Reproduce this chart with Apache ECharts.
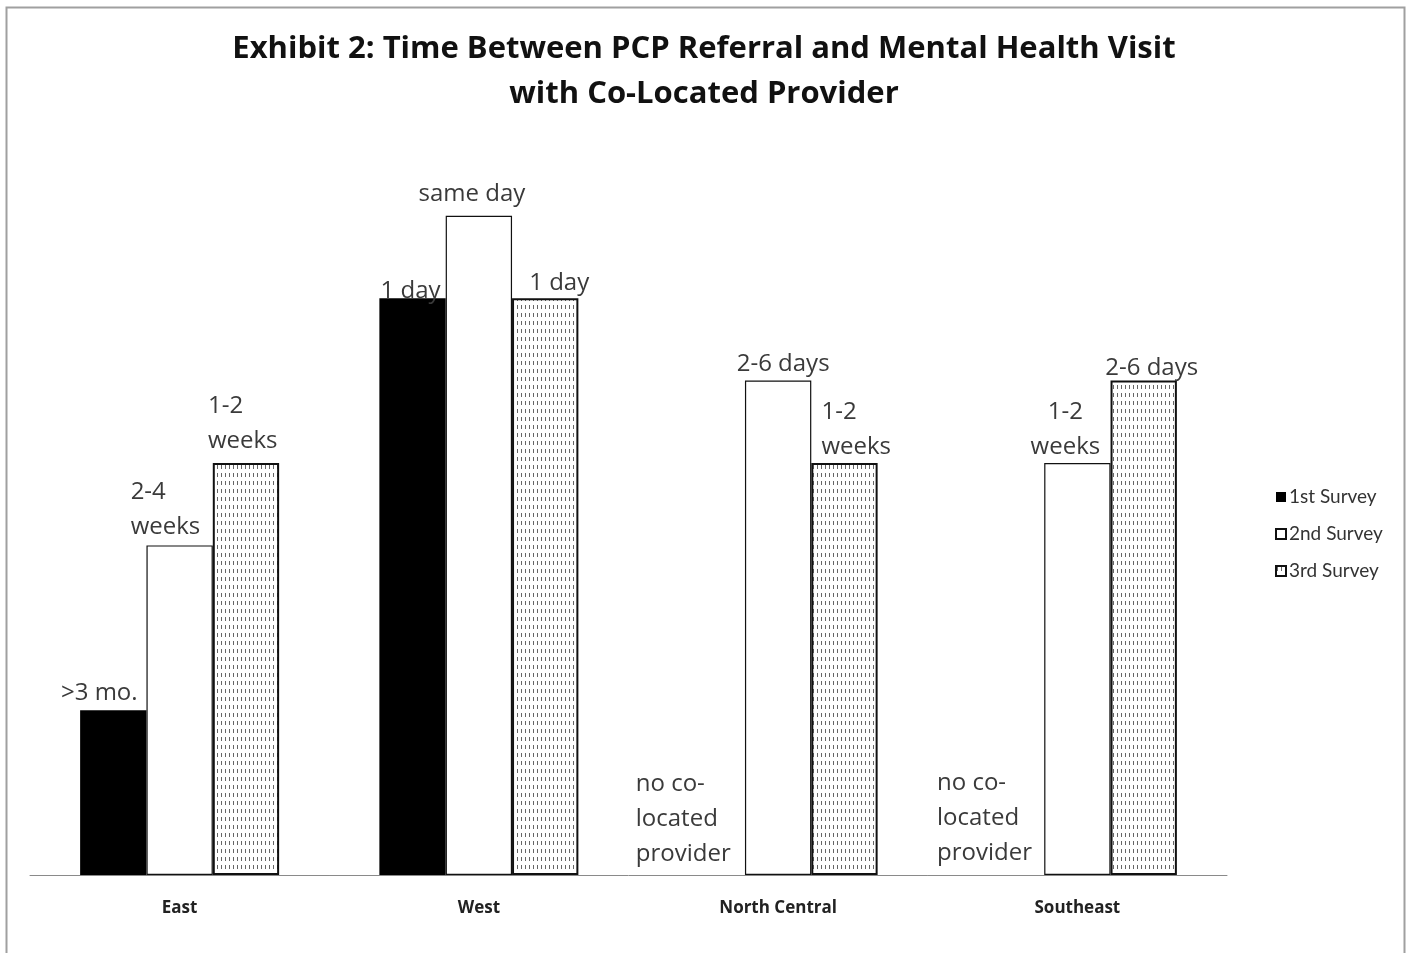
<!DOCTYPE html>
<html>
<head>
<meta charset="utf-8">
<script src="https://cdn.jsdelivr.net/npm/echarts@6/dist/echarts.min.js"></script>
<style>
html,body{margin:0;padding:0;background:#fff;}
#chart{width:1408px;height:953px;}
</style>
</head>
<body>
<div id="chart"></div>
<script>
// ---- data ----
const categories = ['East', 'West', 'North Central', 'Southeast'];
const seriesNames = ['1st Survey', '2nd Survey', '3rd Survey'];
// ordinal wait-time rank (higher = shorter wait)
const survey1 = [2, 7, 0, 0];
const survey2 = [4, 8, 6, 5];
const survey3 = [5, 7, 5, 6];
const labels1 = ['>3 mo.', '1 day', 'no co-\nlocated\nprovider', 'no co-\nlocated\nprovider'];
const labels2 = ['2-4\nweeks', 'same day', '2-6 days', '1-2\nweeks'];
const labels3 = ['1-2\nweeks', '1 day', '1-2\nweeks', '2-6 days'];
const titleText = 'Exhibit 2: Time Between PCP Referral and Mental Health Visit\nwith Co-Located Provider';

// ---- label placement styles ----
const labelStyle1 = [
  {align: 'center', offset: [-14, 3]},
  {align: 'center', offset: [-2, 13]},
  {align: 'left', offset: [-76, 0]},
  {align: 'left', offset: [-74, -1]}
];
const labelStyle2 = [
  {align: 'left', offset: [-49, 2]},
  {align: 'center', offset: [-7, -1]},
  {align: 'center', offset: [5, 4]},
  {align: 'center', offset: [-12, 5]}
];
const labelStyle3 = [
  {align: 'left', offset: [-38, -1]},
  {align: 'center', offset: [14, 5]},
  {align: 'left', offset: [-23, 5]},
  {align: 'center', offset: [8, 8]}
];

// dotted pattern for 3rd survey
function makePattern() {
  const c = document.createElement('canvas');
  c.width = 4; c.height = 8;
  const ctx = c.getContext('2d');
  ctx.fillStyle = '#fff';
  ctx.fillRect(0, 0, 4, 8);
  ctx.fillStyle = '#666';
  ctx.fillRect(1, 1, 1, 4);
  return c;
}
const pattern = {image: makePattern(), repeat: 'repeat'};

const labelFont = {fontFamily: 'Open Sans', fontSize: 24, color: '#3a3a3a', lineHeight: 35};

function buildData(values, labels, styles) {
  return values.map((v, i) => ({
    value: v,
    label: Object.assign({show: true, position: 'top', distance: 3, formatter: labels[i]}, labelFont, styles[i])
  }));
}

const chart = echarts.init(document.getElementById('chart'), null, {renderer: 'canvas'});
chart.setOption({
  animation: false,
  backgroundColor: '#fff',
  title: {
    text: titleText,
    left: 'center',
    top: 22,
    textStyle: {fontFamily: 'Open Sans', fontWeight: 'bold', fontSize: 31, color: '#111', lineHeight: 45}
  },
  grid: {left: 30, right: 181, top: 51, bottom: 78, containLabel: false},
  legend: {
    orient: 'vertical',
    left: 1270,
    top: 482,
    itemWidth: 10,
    itemHeight: 10,
    itemGap: 17,
    icon: 'rect',
    textStyle: {fontFamily: 'Lato', fontSize: 19, color: '#333', lineHeight: 20, padding: [0, 0, 0, -2]},
    data: seriesNames
  },
  xAxis: {
    type: 'category',
    data: categories,
    axisLine: {lineStyle: {color: '#8a8a8a', width: 1}},
    axisTick: {show: false},
    axisLabel: {fontFamily: 'Open Sans', fontWeight: 'bold', fontSize: 17, color: '#222', margin: 25}
  },
  yAxis: {
    type: 'value',
    min: 0,
    max: 10,
    show: false,
    splitLine: {show: false}
  },
  series: [
    {
      name: seriesNames[0],
      type: 'bar',
      barGap: '0%',
      barCategoryGap: '33.5%',
      itemStyle: {color: '#000', borderWidth: 0},
      data: buildData(survey1, labels1, labelStyle1)
    },
    {
      name: seriesNames[1],
      type: 'bar',
      barGap: '0%',
      barCategoryGap: '33.5%',
      itemStyle: {color: '#fff', borderColor: '#111', borderWidth: 1.2},
      data: buildData(survey2, labels2, labelStyle2)
    },
    {
      name: seriesNames[2],
      type: 'bar',
      barGap: '0%',
      barCategoryGap: '33.5%',
      itemStyle: {color: pattern, borderColor: '#111', borderWidth: 2},
      data: buildData(survey3, labels3, labelStyle3)
    }
  ],
  graphic: [{
    type: 'rect',
    shape: {x: 6.5, y: 7.5, width: 1398, height: 960},
    style: {fill: 'none', stroke: '#a0a0a0', lineWidth: 2},
    silent: true,
    z: -10
  }]
});
</script>
</body>
</html>
